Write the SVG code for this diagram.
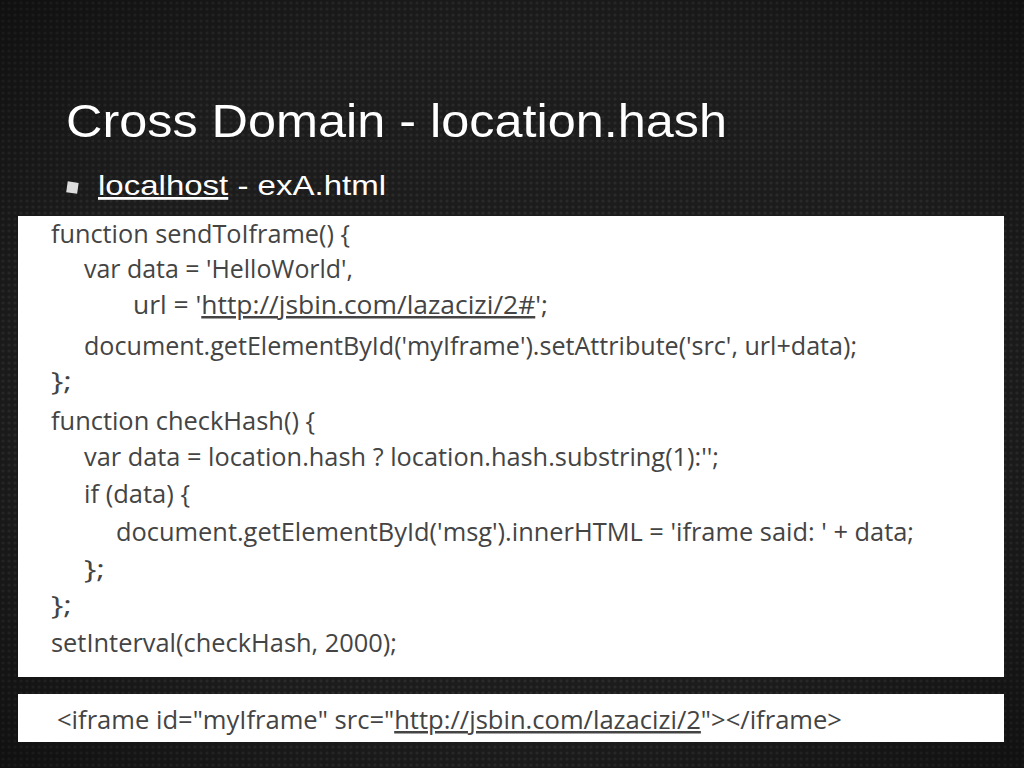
<svg xmlns="http://www.w3.org/2000/svg" width="1024" height="768" viewBox="0 0 1024 768">
<defs>
<pattern id="bg" width="6" height="6" patternUnits="userSpaceOnUse">
<rect width="6" height="6" fill="#1c1c1c"/>
<circle cx="3" cy="3" r="1.6" fill="#2a2a2a"/>
</pattern>
<radialGradient id="vig" cx="0.5" cy="0.5" r="0.75">
<stop offset="0.6" stop-color="#000" stop-opacity="0"/>
<stop offset="1" stop-color="#000" stop-opacity="0.5"/>
</radialGradient>
</defs>
<style>
.code{font-family:"Open Sans","Liberation Sans",sans-serif;font-size:25px;fill:#444;}
.u{text-decoration:underline;}
</style>
<rect width="1024" height="768" fill="url(#bg)"/>
<rect width="1024" height="768" fill="url(#vig)"/>
<text x="66" y="137" font-family="'Liberation Sans',sans-serif" font-size="47" fill="#fff" textLength="661" lengthAdjust="spacingAndGlyphs">Cross Domain - location.hash</text>
<rect x="67" y="182" width="11" height="11" fill="#ddd" transform="rotate(8 72 187)"/>
<text x="98" y="195" font-family="'Liberation Sans',sans-serif" font-size="28" fill="#fff" textLength="288" lengthAdjust="spacingAndGlyphs"><tspan class="u">localhost</tspan> - exA.html</text>
<rect x="18" y="216" width="986" height="461" fill="#fff"/>
<rect x="18" y="694" width="986" height="48" fill="#fff"/>
<g>
<text class="code" x="51" y="243" textLength="299" lengthAdjust="spacingAndGlyphs">function sendToIframe() {</text>
<text class="code" x="84" y="278" textLength="269" lengthAdjust="spacingAndGlyphs">var data = 'HelloWorld',</text>
<text class="code" x="133" y="314" textLength="415" lengthAdjust="spacingAndGlyphs">url = '<tspan class="u">http://jsbin.com/lazacizi/2#</tspan>';</text>
<text class="code" x="84" y="355" textLength="773" lengthAdjust="spacingAndGlyphs">document.getElementById('myIframe').setAttribute('src', url+data);</text>
<text class="code" x="51" y="390" textLength="21" lengthAdjust="spacingAndGlyphs">};</text>
<text class="code" x="51" y="430" textLength="264" lengthAdjust="spacingAndGlyphs">function checkHash() {</text>
<text class="code" x="84" y="466" textLength="635" lengthAdjust="spacingAndGlyphs">var data = location.hash ? location.hash.substring(1):'';</text>
<text class="code" x="84" y="503" textLength="106" lengthAdjust="spacingAndGlyphs">if (data) {</text>
<text class="code" x="116" y="541" textLength="798" lengthAdjust="spacingAndGlyphs">document.getElementById('msg').innerHTML = 'iframe said: ' + data;</text>
<text class="code" x="84" y="578" textLength="21" lengthAdjust="spacingAndGlyphs">};</text>
<text class="code" x="51" y="614" textLength="21" lengthAdjust="spacingAndGlyphs">};</text>
<text class="code" x="51" y="652" textLength="346" lengthAdjust="spacingAndGlyphs">setInterval(checkHash, 2000);</text>
<text class="code" x="57" y="729" textLength="785" lengthAdjust="spacingAndGlyphs">&lt;iframe id="myIframe" src="<tspan class="u">http://jsbin.com/lazacizi/2</tspan>"&gt;&lt;/iframe&gt;</text>
</g>
</svg>
